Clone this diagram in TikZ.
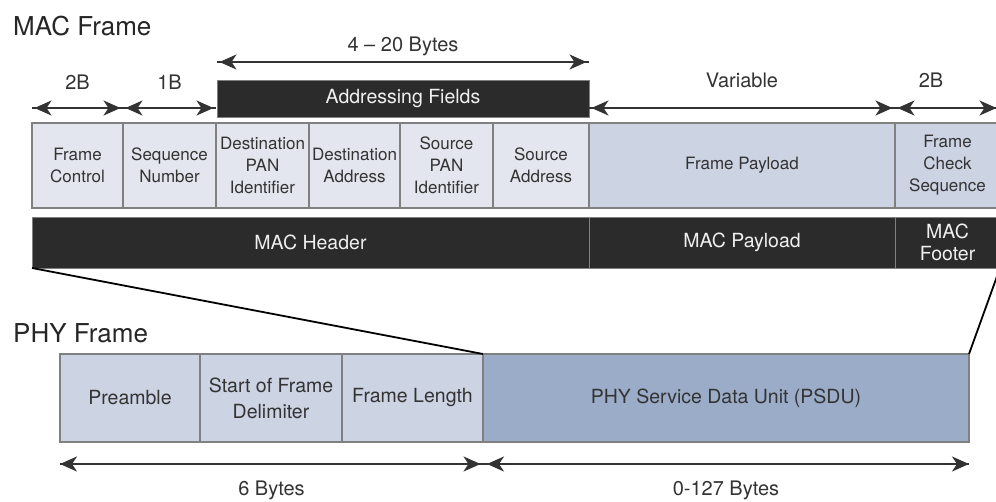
\documentclass[tikz,border=0pt]{standalone}
\usepackage{fontspec}
\setmainfont{TeX Gyre Heros}
\usetikzlibrary{arrows.meta}
\definecolor{cellgray}{HTML}{E3E6EE}
\definecolor{cellblue}{HTML}{CCD3E3}
\definecolor{psdublue}{HTML}{9AACC8}
\definecolor{bardark}{HTML}{2B2B2B}
\definecolor{edgegray}{HTML}{808080}
\definecolor{inkgray}{HTML}{333333}
\tikzset{
  field/.style={draw=edgegray, line width=1.2pt, anchor=north west, outer sep=0pt,
    inner sep=0pt, minimum height=85pt, align=center, text=inkgray,
    font=\fontsize{17}{22}\selectfont},
  phyfield/.style={field, minimum height=88pt, font=\fontsize{19.5}{26}\selectfont},
  bar/.style={fill=bardark, draw=edgegray, line width=1pt, anchor=north west, outer sep=0pt,
    inner sep=0pt, minimum height=51pt, align=center, text=white!94!black,
    font=\fontsize{19.5}{22}\selectfont},
  title/.style={anchor=base west, inner sep=0pt, text=black!85, font=\fontsize{26}{30}\selectfont},
  lbl/.style={midway, inner sep=0pt, text=inkgray, font=\fontsize{20}{24}\selectfont},
  sizearrow/.style={draw=inkgray, line width=2.2pt, shorten >=2.5pt,
    -{Stealth[length=17pt,width=15pt,inset=5pt]}},
  zoomline/.style={draw=black, line width=1.8pt}
}
\begin{document}
\begin{tikzpicture}[x=1pt,y=-1pt]
\useasboundingbox (0,0) rectangle (996,501);
% MAC frame
\node[title] (macttl) at (13,35) {MAC Frame};
\node[field, fill=cellgray, minimum width=91pt] (fc) at (32,123) {Frame\\Control};
\node[field, fill=cellgray, minimum width=93pt] (sn) at (fc.north east) {Sequence\\Number};
\node[field, fill=cellgray, minimum width=93pt] (dpan) at (sn.north east) {Destination\\PAN\\Identifier};
\node[field, fill=cellgray, minimum width=91pt] (dad) at (dpan.north east) {Destination\\Address};
\node[field, fill=cellgray, minimum width=93pt] (span) at (dad.north east) {Source\\PAN\\Identifier};
\node[field, fill=cellgray, minimum width=96pt] (sad) at (span.north east) {Source\\Address};
\node[field, fill=cellblue, minimum width=306pt] (pay) at (sad.north east) {Frame Payload};
\node[field, fill=cellblue, minimum width=105pt] (fcs) at (pay.north east) {Frame\\Check\\Sequence};
\node[bar, minimum width=372pt, minimum height=37pt] (addr) at (217,80) {Addressing Fields};
\node[bar, minimum width=557pt] (hdr) at (32,217) {MAC Header};
\node[bar, minimum width=306pt] (mpay) at (hdr.north east) {MAC Payload};
\node[bar, minimum width=105pt] (ftr) at (mpay.north east) {MAC\\Footer};
% byte counts
\draw[sizearrow] ([yshift=15pt]fc.north west) -- node[lbl, yshift=26pt]{2B} ([yshift=15pt]fc.north east);
\draw[sizearrow] ([yshift=15pt]fc.north east) -- ([yshift=15pt]fc.north west);
\draw[sizearrow] ([yshift=15pt]sn.north west) -- node[lbl, yshift=26pt]{1B} ([yshift=15pt]sn.north east);
\draw[sizearrow] ([yshift=15pt]sn.north east) -- ([yshift=15pt]sn.north west);
\draw[sizearrow] ([yshift=18pt]addr.north west) -- node[lbl, yshift=16pt]{4 -- 20 Bytes} ([yshift=18pt]addr.north east);
\draw[sizearrow] ([yshift=18pt]addr.north east) -- ([yshift=18pt]addr.north west);
\draw[sizearrow] ([yshift=15pt]pay.north west) -- node[lbl, yshift=28pt]{Variable} ([yshift=15pt]pay.north east);
\draw[sizearrow] ([yshift=15pt]pay.north east) -- ([yshift=15pt]pay.north west);
\draw[sizearrow] ([yshift=15pt]fcs.north west) -- node[lbl, xshift=-16pt, yshift=28pt]{2B} ([yshift=15pt,xshift=-1pt]fcs.north east);
\draw[sizearrow] ([yshift=15pt,xshift=-1pt]fcs.north east) -- ([yshift=15pt]fcs.north west);
% PHY frame
\node[title] (phyttl) at (13,342) {PHY Frame};
\node[phyfield, fill=cellblue, minimum width=140pt] (pre) at (60,354) {Preamble};
\node[phyfield, fill=cellblue, minimum width=142pt] (sfd) at (pre.north east) {Start of Frame\\Delimiter};
\node[phyfield, fill=cellblue, minimum width=141pt] (flen) at (sfd.north east) {Frame Length};
\node[phyfield, fill=psdublue, minimum width=486pt] (psdu) at (flen.north east) {PHY Service Data Unit (PSDU)};
\draw[sizearrow] ([yshift=-22pt]pre.south west) -- node[lbl, yshift=-26pt]{6 Bytes} ([yshift=-22pt]flen.south east);
\draw[sizearrow, shorten >=0pt] ([yshift=-22pt]flen.south east) -- ([yshift=-22pt]pre.south west);
\draw[sizearrow, shorten >=0pt] ([yshift=-22pt]psdu.south west) -- node[lbl, yshift=-26pt]{0-127 Bytes} ([yshift=-22pt]psdu.south east);
\draw[sizearrow, shorten >=4pt] ([yshift=-22pt]psdu.south east) -- ([yshift=-22pt]psdu.south west);
% zoom lines
\draw[zoomline] (hdr.south west) -- (psdu.north west);
\draw[zoomline] (ftr.south east) -- (psdu.north east);
\end{tikzpicture}
\end{document}
